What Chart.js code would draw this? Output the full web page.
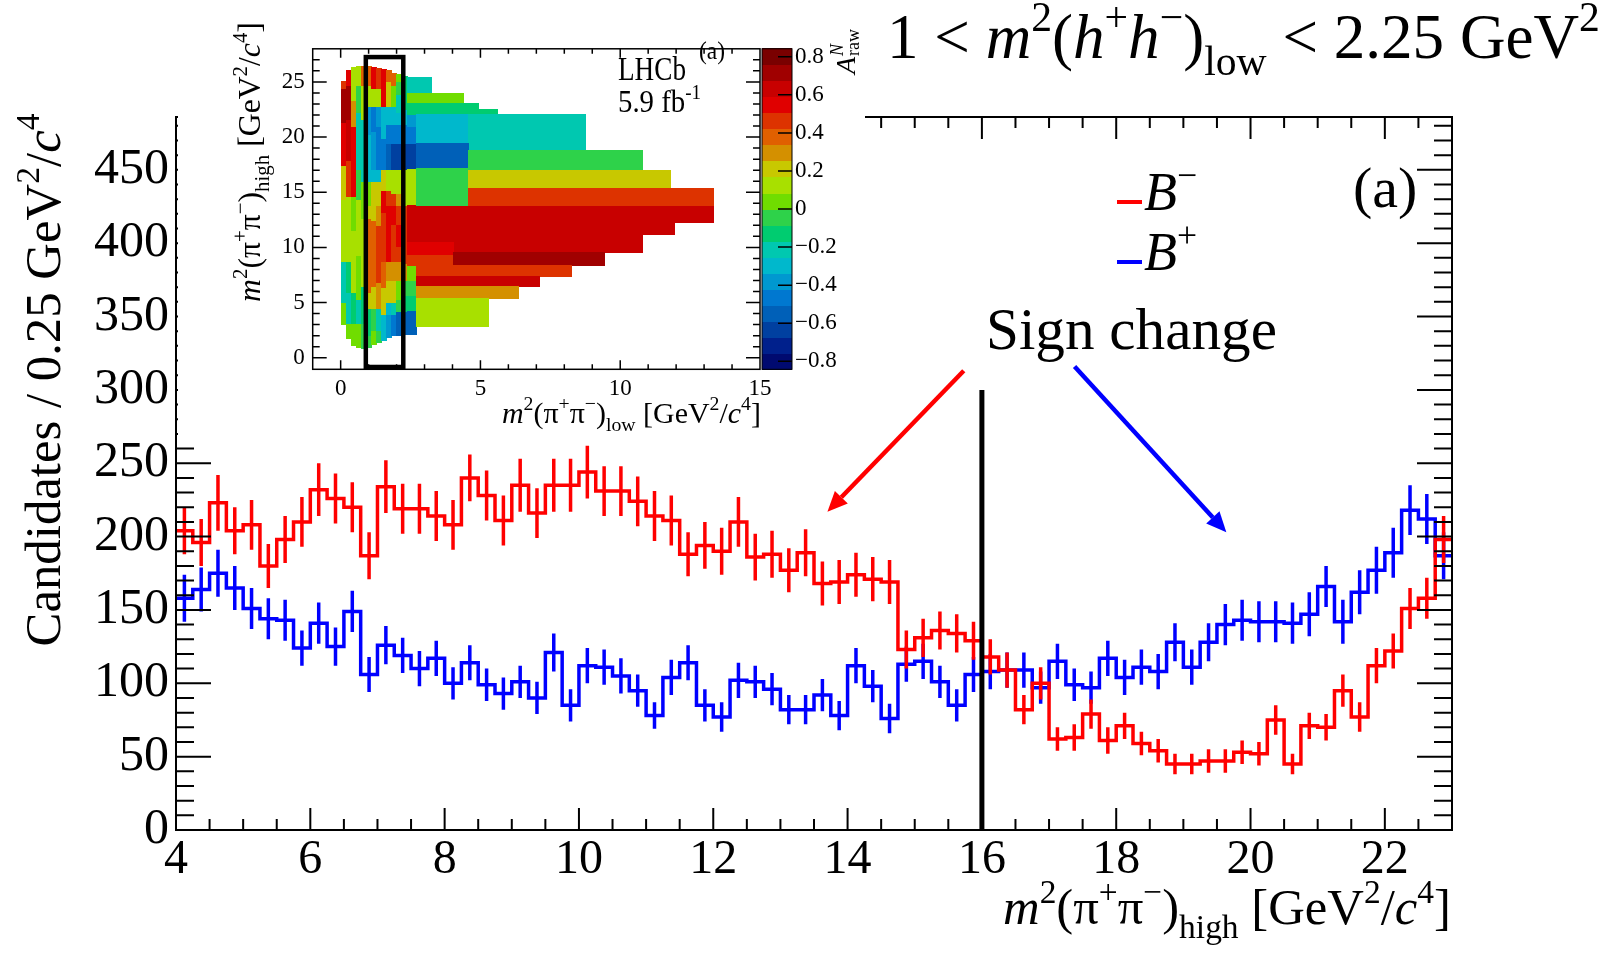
<!DOCTYPE html>
<html>
<head>
<meta charset="utf-8">
<script src="https://cdn.jsdelivr.net/npm/chart.js@4/dist/chart.umd.min.js"></script>
<style>
  html, body { margin: 0; padding: 0; background: #fff; }
  #wrap { position: relative; width: 1608px; height: 960px; overflow: hidden; }
  #main { position: absolute; left: 0; top: 0; }
  #inset { position: absolute; left: 178px; top: 0; background: #fff; }
</style>
</head>
<body>
<div id="wrap">
  <canvas id="main" width="1608" height="960"></canvas>
  <canvas id="inset" width="687" height="442"></canvas>
</div>
<script>
// histogram: 76 bins of 0.25 GeV^2/c^4 from 4 to 23
const binEdge0 = 4;
const binWidth = 0.25;

// B- candidates per bin
const bMinus = [204, 196, 223, 204, 208, 180, 198, 210, 232, 226, 220, 187, 234, 219, 219, 214, 208, 240, 228, 211,
  235, 216, 235, 235, 244, 231, 231, 224, 214, 211, 188, 194, 190, 210, 186, 188, 177, 189, 168, 169,
  174, 171, 169, 123, 131, 136, 134, 129, 118, 109, 82, 100, 62, 63, 79, 61, 71, 59, 54, 45,
  45, 47, 47, 53, 52, 75, 45, 71, 70, 95, 77, 112, 122, 151, 158, 198];
const bMinusErr = [16, 16, 19, 16, 17, 15, 16, 17, 18, 17, 17, 16, 18, 17, 17, 17, 17, 16, 17, 17,
  18, 17, 18, 18, 18, 17, 17, 17, 17, 17, 15, 16, 16, 17, 16, 16, 15, 16, 15, 15,
  15, 15, 15, 13, 13, 13, 13, 13, 12, 12, 10, 11, 8, 9, 10, 9, 9, 8, 8, 7,
  7, 8, 8, 8, 8, 10, 7, 9, 9, 11, 10, 12, 12, 14, 14, 16];

// B+ candidates per bin
const bPlus = [158, 164, 175, 165, 151, 144, 143, 124, 141, 125, 149, 106, 126, 119, 110, 117, 100, 114, 99, 93,
  101, 90, 121, 85, 112, 111, 105, 95, 78, 104, 114, 85, 77, 102, 101, 96, 82, 82, 92, 78,
  112, 98, 76, 113, 115, 101, 85, 106, 108, 109, 109, 97, 115, 99, 97, 117, 104, 111, 108, 128,
  111, 128, 140, 143, 142, 142, 141, 147, 166, 142, 162, 177, 189, 218, 212, 187];
const bPlusErr = [16, 15, 16, 15, 14, 14, 14, 12, 14, 13, 14, 12, 13, 12, 12, 12, 11, 12, 11, 11,
  11, 11, 13, 11, 12, 12, 12, 11, 9, 12, 12, 11, 10, 12, 11, 11, 10, 10, 11, 10,
  12, 11, 10, 12, 12, 11, 11, 12, 12, 12, 12, 11, 12, 11, 11, 12, 12, 12, 12, 13,
  12, 13, 14, 14, 14, 14, 14, 15, 14, 15, 15, 16, 17, 17, 17, 16];

const xTicks = [4, 6, 8, 10, 12, 14, 16, 18, 20, 22];
const yTicks = [0, 50, 100, 150, 200, 250, 300, 350, 400, 450];

// inset: raw asymmetry map, coarse bins [xlow, xhigh, ylow, yhigh, A]
const insetBins = [
  [2.39, 2.72, 2.11, 4.30, -0.55], [2.39, 2.72, 4.30, 5.67, -0.13], [2.39, 2.72, 5.67, 7.02, -0.04],
  [2.39, 2.72, 7.02, 8.34, 0.04], [2.39, 2.72, 13.82, 17.13, 0.13], [2.39, 2.72, 17.13, 19.38, -0.63],
  [2.39, 2.72, 19.38, 20.93, -0.46], [2.39, 2.72, 20.93, 22.05, -0.38],
  [2.39, 3.26, 23.93, 25.42, -0.21], [2.39, 4.41, 23.08, 23.93, 0.04], [2.39, 4.92, 22.47, 23.08, -0.13],
  [2.39, 5.60, 22.05, 22.47, -0.13],
  [2.39, 13.32, 12.22, 13.82, 0.63], [2.39, 11.95, 11.18, 12.22, 0.63], [2.39, 10.78, 9.58, 11.18, 0.63],
  [2.39, 4.05, 9.27, 10.45, 0.55], [2.39, 4.05, 8.34, 9.27, 0.46], [4.05, 9.42, 8.34, 9.58, 0.72],
  [2.72, 4.57, 19.38, 22.05, -0.29], [4.57, 8.76, 18.82, 22.05, -0.21], [2.72, 4.57, 17.13, 19.38, -0.55],
  [4.57, 10.78, 16.93, 18.82, -0.04], [2.72, 4.57, 13.82, 17.13, -0.04], [4.57, 11.80, 15.37, 16.93, 0.21],
  [4.57, 13.32, 13.82, 15.37, 0.46], [2.72, 8.26, 7.36, 8.34, 0.46], [2.72, 7.13, 6.46, 7.36, 0.63],
  [2.72, 6.35, 5.39, 6.46, 0.29], [2.72, 5.30, 2.81, 5.39, 0.13]
];

// inset: fine binned low-mass strip, column edges and [ylow, yhigh, A] per column
const fineEdges = [0.04, 0.22, 0.40, 0.58, 0.76, 0.94, 1.11, 1.29, 1.47, 1.65, 1.83, 2.01, 2.19, 2.39];
const fineCols = [
  [[3.0, 5.0, 0.04], [5.0, 8.7, -0.21], [8.7, 14.3, 0.13], [14.3, 17.4, 0.21], [17.4, 21.3, 0.55], [21.3, 24.4, 0.72], [24.4, 25.0, 0.46]],
  [[1.7, 3.1, 0.04], [3.1, 5.9, -0.21], [5.9, 8.7, -0.13], [8.7, 14.6, 0.13], [14.6, 17.9, 0.46], [17.9, 21.6, 0.63], [21.6, 24.7, 0.72], [24.7, 26.0, 0.55]],
  [[1.1, 3.1, 0.04], [3.1, 5.9, -0.13], [5.9, 11.5, 0.13], [11.5, 14.6, 0.04], [14.6, 21.0, 0.55], [21.0, 23.3, 0.29], [23.3, 26.3, 0.13]],
  [[0.9, 3.1, 0.04], [3.1, 5.3, -0.21], [5.3, 9.3, 0.04], [9.3, 14.3, 0.13], [14.3, 17.1, -0.04], [17.1, 22.2, -0.21], [22.2, 24.7, -0.04], [24.7, 26.4, 0.13]],
  [[0.8, 3.1, -0.04], [3.1, 6.5, -0.13], [6.5, 12.6, 0.13], [12.6, 16.0, 0.04], [16.0, 21.6, -0.21], [21.6, 24.7, 0.13], [24.7, 26.4, 0.38]],
  [[0.9, 2.0, -0.04], [2.0, 4.5, -0.13], [4.5, 5.9, 0.21], [5.9, 12.6, 0.38], [12.6, 13.8, 0.21], [13.8, 16.0, 0.04], [16.0, 20.2, -0.29], [20.2, 22.8, -0.38], [22.8, 24.7, 0.13], [24.7, 26.4, 0.38]],
  [[1.2, 2.5, 0.04], [2.5, 4.5, -0.04], [4.5, 6.5, 0.21], [6.5, 12.4, 0.38], [12.4, 16.0, 0.21], [16.0, 17.1, -0.29], [17.1, 20.5, -0.38], [20.5, 22.8, -0.46], [22.8, 24.4, 0.13], [24.4, 26.3, 0.55]],
  [[1.4, 2.5, -0.04], [2.5, 4.5, -0.21], [4.5, 6.8, 0.29], [6.8, 12.0, 0.46], [12.0, 13.8, 0.29], [13.8, 16.0, 0.21], [16.0, 17.1, -0.29], [17.1, 21.0, -0.46], [21.0, 22.8, -0.38], [22.8, 24.4, 0.13], [24.4, 26.2, 0.46]],
  [[1.6, 3.9, -0.29], [3.9, 6.4, 0.21], [6.4, 8.7, 0.38], [8.7, 13.2, 0.46], [13.2, 15.2, 0.55], [15.2, 17.1, 0.21], [17.1, 19.9, -0.46], [19.9, 22.8, -0.29], [22.8, 26.1, 0.55]],
  [[1.8, 3.9, -0.38], [3.9, 5.0, -0.29], [5.0, 7.0, 0.21], [7.0, 8.7, 0.29], [8.7, 13.8, 0.55], [13.8, 15.2, 0.46], [15.2, 17.1, 0.13], [17.1, 19.4, -0.55], [19.4, 21.1, -0.46], [21.1, 22.8, -0.29], [22.8, 25.0, 0.21], [25.0, 26.0, 0.38]],
  [[2.0, 3.9, -0.46], [3.9, 5.0, -0.21], [5.0, 7.0, 0.21], [7.0, 8.7, 0.29], [8.7, 12.1, 0.46], [12.1, 13.8, 0.55], [13.8, 14.9, 0.46], [14.9, 17.1, 0.13], [17.1, 19.4, -0.63], [19.4, 21.1, -0.46], [21.1, 22.8, -0.29], [22.8, 24.7, 0.04], [24.7, 25.8, 0.38]],
  [[2.0, 4.2, -0.55], [4.2, 5.3, -0.04], [5.3, 7.0, 0.04], [7.0, 8.7, 0.29], [8.7, 10.1, 0.46], [10.1, 12.1, 0.55], [12.1, 13.8, 0.46], [13.8, 14.9, 0.29], [14.9, 17.1, 0.13], [17.1, 19.4, -0.63], [19.4, 21.1, -0.46], [21.1, 22.2, -0.29], [22.2, 23.9, -0.21], [23.9, 25.0, -0.04], [25.0, 25.7, 0.04]],
  [[2.1, 4.2, -0.55], [4.2, 5.6, -0.13], [5.6, 7.0, -0.04], [7.0, 8.5, 0.29], [8.5, 13.8, 0.46], [13.8, 17.1, 0.13], [17.1, 19.4, -0.63], [19.4, 21.1, -0.46], [21.1, 22.5, -0.29], [22.5, 25.5, -0.13]]
];

const insetXTicks = [0, 5, 10, 15];
const insetYTicks = [0, 5, 10, 15, 20, 25];
const zTicks = [-0.8, -0.6, -0.4, -0.2, 0, 0.2, 0.4, 0.6, 0.8];
const zMin = -0.842, zMax = 0.842;

const RED = '#ff0000';
const BLUE = '#0000ff';
const SERIF = 'Liberation Serif';
const palette = ['#000a70', '#00208c', '#0040a0', '#0060b8', '#0078d0', '#0098d0', '#00b8cc', '#00c8b0', '#00cc70', '#2ed24a',
  '#70dd00', '#a8e000', '#c8c800', '#d49000', '#e06000', '#dd3300', '#e00000', '#c80000', '#a00000', '#7a0000'];

function paletteColour(v) {
  let i = Math.floor((v - zMin) / (zMax - zMin) * palette.length);
  return palette[Math.max(0, Math.min(palette.length - 1, i))];
}

function stepPoints(vals) {
  const pts = vals.map((v, i) => ({ x: binEdge0 + i * binWidth, y: v }));
  pts.push({ x: binEdge0 + vals.length * binWidth, y: vals[vals.length - 1] });
  return pts;
}

// rich text: parts = [text, kind] with kind n normal, i italic, u superscript, d subscript
function layoutRich(ctx, parts, size) {
  return parts.map(([t, k]) => {
    const small = k === 'u' || k === 'd';
    const fs = small ? size * 0.66 : size;
    const font = (k === 'i' ? 'italic ' : '') + fs + 'px "' + SERIF + '"';
    ctx.font = font;
    return { t, font, w: ctx.measureText(t).width, dy: k === 'u' ? -size * 0.42 : k === 'd' ? size * 0.27 : 0 };
  });
}
function drawRich(ctx, parts, x, y, size, align) {
  const seg = layoutRich(ctx, parts, size);
  const total = seg.reduce((s, g) => s + g.w, 0);
  let cx = align === 'center' ? x - total / 2 : align === 'right' ? x - total : x;
  ctx.textAlign = 'left';
  ctx.textBaseline = 'alphabetic';
  seg.forEach(g => { ctx.font = g.font; ctx.fillText(g.t, cx, y + g.dy); cx += g.w; });
  return total;
}
// scale the font so the line has the given width
function fitRich(ctx, parts, x, y, width, align) {
  const w = layoutRich(ctx, parts, 40).reduce((s, g) => s + g.w, 0);
  return drawRich(ctx, parts, x, y, 40 * width / w, align);
}

function arrow(ctx, x0, y0, x1, y1, col) {
  const ang = Math.atan2(y1 - y0, x1 - x0), L = 20, W = 9;
  const bx = x1 - L * Math.cos(ang), by = y1 - L * Math.sin(ang);
  ctx.strokeStyle = col;
  ctx.lineWidth = 4.5;
  ctx.beginPath(); ctx.moveTo(x0, y0); ctx.lineTo(bx, by); ctx.stroke();
  ctx.fillStyle = col;
  ctx.beginPath();
  ctx.moveTo(x1, y1);
  ctx.lineTo(bx + W * Math.sin(ang), by - W * Math.cos(ang));
  ctx.lineTo(bx - W * Math.sin(ang), by + W * Math.cos(ang));
  ctx.closePath(); ctx.fill();
}

const mainDecor = {
  id: 'mainDecor',
  afterDatasetDraw(chart, args) {
    const ds = chart.data.datasets[args.index];
    const { ctx, chartArea: a, scales: { x, y } } = chart;
    ctx.save();
    ctx.beginPath(); ctx.rect(a.left, a.top, a.right - a.left, a.bottom - a.top); ctx.clip();
    ctx.strokeStyle = ds.borderColor;
    ctx.lineWidth = 3.5;
    ctx.beginPath();
    ds.vals.forEach((v, i) => {
      const px = x.getPixelForValue(binEdge0 + (i + 0.5) * binWidth);
      ctx.moveTo(px, y.getPixelForValue(v - ds.errs[i]));
      ctx.lineTo(px, y.getPixelForValue(v + ds.errs[i]));
    });
    ctx.stroke();
    ctx.restore();
  },
  afterDraw(chart) {
    const { ctx, chartArea: a, scales: { x, y } } = chart;
    ctx.save();
    // frame and inward ticks, ROOT style
    ctx.strokeStyle = '#000';
    ctx.lineWidth = 2;
    ctx.strokeRect(a.left, a.top, a.right - a.left, a.bottom - a.top);
    ctx.beginPath();
    for (let k = 9; k < 46; k++) {
      const px = x.getPixelForValue(k / 2), len = k % 4 === 0 ? 22 : 11;
      ctx.moveTo(px, a.bottom); ctx.lineTo(px, a.bottom - len);
      ctx.moveTo(px, a.top); ctx.lineTo(px, a.top + len);
    }
    for (let v = 10; v <= 480; v += 10) {
      const py = y.getPixelForValue(v), len = v % 50 === 0 ? 35 : 18;
      ctx.moveTo(a.left, py); ctx.lineTo(a.left + len, py);
      ctx.moveTo(a.right, py); ctx.lineTo(a.right - len, py);
    }
    ctx.stroke();

    // boundary line at 16
    ctx.lineWidth = 5;
    ctx.beginPath();
    ctx.moveTo(x.getPixelForValue(16), y.getPixelForValue(0));
    ctx.lineTo(x.getPixelForValue(16), y.getPixelForValue(300));
    ctx.stroke();

    arrow(ctx, x.getPixelForValue(15.73), y.getPixelForValue(313), x.getPixelForValue(13.7), y.getPixelForValue(217), RED);
    arrow(ctx, x.getPixelForValue(17.38), y.getPixelForValue(316), x.getPixelForValue(19.64), y.getPixelForValue(203), BLUE);

    ctx.fillStyle = '#000';
    fitRich(ctx, [['Sign change', 'n']], 986, 349, 291, 'left');
    drawRich(ctx, [['(a)', 'n']], 1353, 207, 58, 'left');

    // legend
    ctx.lineWidth = 4;
    [[RED, 202, '−'], [BLUE, 262, '+']].forEach(([col, ly, sign]) => {
      ctx.strokeStyle = col;
      ctx.beginPath(); ctx.moveTo(1117, ly); ctx.lineTo(1142, ly); ctx.stroke();
      ctx.fillStyle = '#000';
      drawRich(ctx, [['B', 'i'], [sign, 'u']], 1144, ly + 8, 54, 'left');
    });

    // title
    fitRich(ctx, [['1 < ', 'n'], ['m', 'i'], ['2', 'u'], ['(', 'n'], ['h', 'i'], ['+', 'u'], ['h', 'i'], ['−', 'u'], [')', 'n'],
      ['low', 'd'], [' < 2.25 GeV', 'n'], ['2', 'u']], 887, 58, 713, 'left');

    // axis titles
    fitRich(ctx, [['m', 'i'], ['2', 'u'], ['(π', 'n'], ['+', 'u'], ['π', 'n'], ['−', 'u'], [')', 'n'], ['high', 'd'],
      [' [GeV', 'n'], ['2', 'u'], ['/', 'n'], ['c', 'i'], ['4', 'u'], [']', 'n']], 1003, 924, 448, 'left');
    ctx.translate(60, 380);
    ctx.rotate(-Math.PI / 2);
    fitRich(ctx, [['Candidates / 0.25 GeV', 'n'], ['2', 'u'], ['/', 'n'], ['c', 'i'], ['4', 'u']], 0, 0, 533, 'center');
    ctx.restore();
  }
};

new Chart(document.getElementById('main'), {
  type: 'line',
  data: {
    datasets: [
      { label: 'B-', data: stepPoints(bMinus), vals: bMinus, errs: bMinusErr, borderColor: RED, borderWidth: 3.5,
        stepped: 'before', pointRadius: 0, fill: false },
      { label: 'B+', data: stepPoints(bPlus), vals: bPlus, errs: bPlusErr, borderColor: BLUE, borderWidth: 3.5,
        stepped: 'before', pointRadius: 0, fill: false }
    ]
  },
  options: {
    responsive: false,
    animation: false,
    devicePixelRatio: 1,
    layout: { padding: { left: 0, right: 156, top: 117, bottom: 0 } },
    plugins: { legend: { display: false }, tooltip: { enabled: false } },
    scales: {
      x: {
        type: 'linear', min: 4, max: 23,
        grid: { display: false, drawTicks: false }, border: { display: false },
        afterBuildTicks: s => { s.ticks = xTicks.map(v => ({ value: v })); },
        afterFit: s => { s.height = 130; },
        ticks: { color: '#000', font: { family: SERIF, size: 48 }, padding: 2, maxRotation: 0, autoSkip: false }
      },
      y: {
        type: 'linear', min: 0, max: 486,
        grid: { display: false, drawTicks: false }, border: { display: false },
        afterBuildTicks: s => { s.ticks = yTicks.map(v => ({ value: v })); },
        afterFit: s => { s.width = 176; },
        ticks: { color: '#000', font: { family: SERIF, size: 50 }, padding: 7, autoSkip: false }
      }
    }
  },
  plugins: [mainDecor]
});

const insetDecor = {
  id: 'insetDecor',
  beforeDatasetsDraw(chart) {
    const { ctx, chartArea: a, scales: { x, y } } = chart;
    ctx.save();
    ctx.beginPath(); ctx.rect(a.left, a.top, a.right - a.left, a.bottom - a.top); ctx.clip();
    const cell = (x0, x1, y0, y1, v) => {
      const l = Math.floor(x.getPixelForValue(x0)), r = Math.ceil(x.getPixelForValue(x1));
      const t = Math.floor(y.getPixelForValue(y1)), b = Math.ceil(y.getPixelForValue(y0));
      ctx.fillStyle = paletteColour(v);
      ctx.fillRect(l, t, r - l, b - t);
    };
    fineCols.forEach((col, i) => col.forEach(s => cell(fineEdges[i], fineEdges[i + 1], s[0], s[1], s[2])));
    insetBins.forEach(b => cell(b[0], b[1], b[2], b[3], b[4]));
    ctx.restore();
  },
  afterDraw(chart) {
    const { ctx, chartArea: a, scales: { x, y, z } } = chart;
    ctx.save();
    // highlighted strip
    ctx.strokeStyle = '#000';
    ctx.lineWidth = 4.5;
    const bl = x.getPixelForValue(0.9), br = x.getPixelForValue(2.24);
    const bt = y.getPixelForValue(27.25), bb = y.getPixelForValue(-0.84);
    ctx.strokeRect(bl, bt, br - bl, bb - bt);

    // frame and ticks
    ctx.lineWidth = 1.5;
    ctx.strokeRect(a.left, a.top, a.right - a.left, a.bottom - a.top);
    ctx.beginPath();
    for (let v = 0; v < 15; v++) {
      const px = x.getPixelForValue(v), len = v % 5 === 0 ? 9 : 5;
      ctx.moveTo(px, a.bottom); ctx.lineTo(px, a.bottom - len);
      ctx.moveTo(px, a.top); ctx.lineTo(px, a.top + len);
    }
    for (let v = 0; v <= 27; v++) {
      const py = y.getPixelForValue(v), len = v % 5 === 0 ? 14 : 7;
      ctx.moveTo(a.left, py); ctx.lineTo(a.left + len, py);
      ctx.moveTo(a.right, py); ctx.lineTo(a.right - len, py);
    }
    ctx.stroke();

    // colour bar
    const cl = z.left + 2, cw = 30;
    palette.forEach((c, i) => {
      const v0 = zMin + i * (zMax - zMin) / palette.length, v1 = zMin + (i + 1) * (zMax - zMin) / palette.length;
      const t = Math.floor(z.getPixelForValue(v1)), b = Math.ceil(z.getPixelForValue(v0));
      ctx.fillStyle = c;
      ctx.fillRect(cl, t, cw, b - t);
    });
    ctx.lineWidth = 1;
    ctx.strokeRect(cl, z.getPixelForValue(zMax), cw, z.getPixelForValue(zMin) - z.getPixelForValue(zMax));
    ctx.lineWidth = 1.5;
    ctx.beginPath();
    zTicks.forEach(v => {
      const py = z.getPixelForValue(v);
      ctx.moveTo(cl + cw, py); ctx.lineTo(cl + cw - 14, py);
    });
    ctx.stroke();

    // labels
    ctx.fillStyle = '#000';
    ctx.save();
    ctx.translate(440, 80); ctx.scale(0.8, 1);
    drawRich(ctx, [['LHCb', 'n']], 0, 0, 34, 'left');
    ctx.restore();
    ctx.save();
    ctx.translate(521, 59); ctx.scale(0.9, 1);
    drawRich(ctx, [['(a)', 'n']], 0, 0, 26, 'left');
    ctx.restore();
    ctx.save();
    ctx.translate(440, 112); ctx.scale(0.9, 1);
    drawRich(ctx, [['5.9 fb', 'n'], ['-1', 'u']], 0, 0, 32, 'left');
    ctx.restore();

    fitRich(ctx, [['m', 'i'], ['2', 'u'], ['(π', 'n'], ['+', 'u'], ['π', 'n'], ['−', 'u'], [')', 'n'], ['low', 'd'],
      [' [GeV', 'n'], ['2', 'u'], ['/', 'n'], ['c', 'i'], ['4', 'u'], [']', 'n']], 324, 423, 259, 'left');

    ctx.save();
    ctx.translate(82, 162); ctx.rotate(-Math.PI / 2);
    fitRich(ctx, [['m', 'i'], ['2', 'u'], ['(π', 'n'], ['+', 'u'], ['π', 'n'], ['−', 'u'], [')', 'n'], ['high', 'd'],
      [' [GeV', 'n'], ['2', 'u'], ['/', 'n'], ['c', 'i'], ['4', 'u'], [']', 'n']], 0, 0, 280, 'center');
    ctx.restore();

    ctx.save();
    ctx.translate(677, 74); ctx.rotate(-Math.PI / 2);
    ctx.font = 'italic 28px "' + SERIF + '"';
    ctx.textAlign = 'left'; ctx.textBaseline = 'alphabetic';
    ctx.fillText('A', 0, 0);
    const wA = ctx.measureText('A').width;
    ctx.font = 'italic 18px "' + SERIF + '"';
    ctx.fillText('N', wA + 1, -12);
    ctx.font = '18px "' + SERIF + '"';
    ctx.fillText('raw', wA + 1, 4);
    ctx.restore();
    ctx.restore();
  }
};

new Chart(document.getElementById('inset'), {
  type: 'scatter',
  data: {
    datasets: [{ data: insetBins.map(b => ({ x: (b[0] + b[1]) / 2, y: (b[2] + b[3]) / 2 })), pointRadius: 0 }]
  },
  options: {
    responsive: false,
    animation: false,
    devicePixelRatio: 1,
    layout: { padding: { left: 0, right: 0, top: 24, bottom: 0 } },
    plugins: { legend: { display: false }, tooltip: { enabled: false } },
    scales: {
      x: {
        type: 'linear', min: -1, max: 15,
        grid: { display: false, drawTicks: false }, border: { display: false },
        afterBuildTicks: s => { s.ticks = insetXTicks.map(v => ({ value: v })); },
        afterFit: s => { s.height = 72.7; },
        ticks: { color: '#000', font: { family: SERIF, size: 23 }, padding: 6, maxRotation: 0, autoSkip: false }
      },
      y: {
        type: 'linear', min: -1.05, max: 28,
        grid: { display: false, drawTicks: false }, border: { display: false },
        afterBuildTicks: s => { s.ticks = insetYTicks.map(v => ({ value: v })); },
        afterFit: s => { s.width = 134.7; },
        ticks: { color: '#000', font: { family: SERIF, size: 23 }, padding: 8, autoSkip: false }
      },
      z: {
        type: 'linear', axis: 'y', position: 'right', min: zMin, max: zMax,
        grid: { display: false, drawTicks: false }, border: { display: false },
        afterBuildTicks: s => { s.ticks = zTicks.map(v => ({ value: v })); },
        afterFit: s => { s.width = 105; },
        ticks: {
          color: '#000', font: { family: SERIF, size: 23 }, padding: 35, autoSkip: false,
          callback: v => v === 0 ? '0' : (v < 0 ? '−' : '') + Math.abs(v).toFixed(1)
        }
      }
    }
  },
  plugins: [insetDecor]
});
</script>
</body>
</html>
